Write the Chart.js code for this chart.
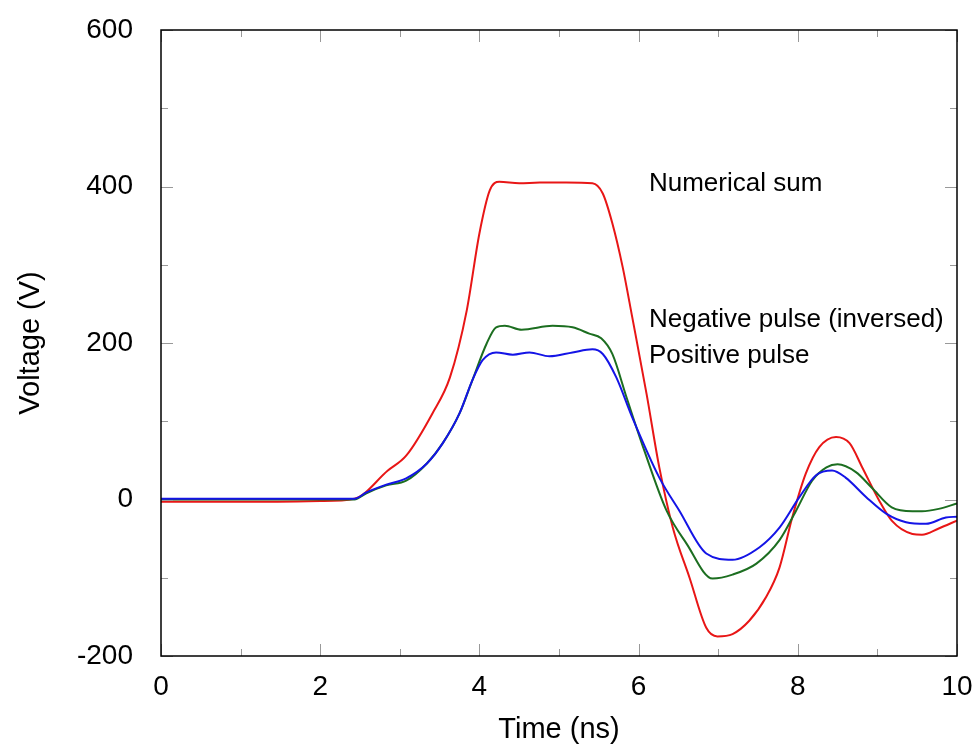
<!DOCTYPE html>
<html>
<head>
<meta charset="utf-8">
<script src="https://cdn.jsdelivr.net/npm/chart.js@4"></script>
<style>
  html, body { margin: 0; padding: 0; background: #fff; }
  #wrap { width: 976px; height: 747px; }
</style>
</head>
<body>
<div id="wrap"><canvas id="pulseChart" width="976" height="747"></canvas></div>
<script>
// Numerical sum (red)
const sumTime = [0, 1, 2, 2.43, 2.85, 3.08, 3.41, 3.63, 3.84, 4.0, 4.13, 4.25, 4.5, 4.76, 5.09, 5.42, 5.55, 5.67, 5.8, 5.92, 6.1, 6.26, 6.43, 6.64, 6.85, 6.99, 7.18, 7.39, 7.6, 7.77, 7.93, 8.1, 8.27, 8.48, 8.65, 8.81, 9.02, 9.18, 9.44, 9.56, 9.77, 10];
const sumVolts = [-3, -3, -2, 1, 37, 56, 110, 156, 241, 340, 395, 406, 404, 405, 405, 404, 391, 353, 297, 233, 135, 41, -36, -100, -164, -175, -172, -155, -125, -87, -23, 33, 67, 80, 72, 41, -1, -27, -44, -45, -37, -27];

// Negative pulse, inverted (green)
const negTime = [0, 1, 2, 2.43, 2.58, 2.83, 3.08, 3.34, 3.54, 3.75, 3.91, 4.09, 4.21, 4.32, 4.53, 4.92, 5.17, 5.38, 5.53, 5.67, 5.85, 6.07, 6.35, 6.6, 6.93, 7.18, 7.48, 7.77, 7.98, 8.18, 8.36, 8.5, 8.73, 8.93, 9.18, 9.44, 9.56, 9.77, 10];
const negVolts = [0, 0, 0, 0, 8, 18, 24, 46, 72, 110, 152, 199, 220, 222, 217, 222, 220, 212, 206, 186, 130, 63, -14, -56, -101, -96, -82, -52, -14, 24, 41, 45, 35, 15, -10, -15, -15, -12, -5];

// Positive pulse (blue)
const posTime = [0, 1, 2, 2.43, 2.58, 2.83, 3.08, 3.34, 3.54, 3.75, 3.91, 4.04, 4.21, 4.42, 4.63, 4.88, 5.17, 5.42, 5.55, 5.72, 5.92, 6.26, 6.51, 6.85, 7.18, 7.52, 7.77, 8.02, 8.23, 8.43, 8.6, 8.86, 9.11, 9.36, 9.61, 9.86, 10];
const posVolts = [1, 1, 1, 1, 9, 19, 27, 46, 72, 110, 152, 178, 188, 185, 188, 183, 188, 192, 186, 156, 105, 28, -14, -69, -77, -61, -36, 3, 31, 37, 28, 3, -18, -29, -31, -23, -22];

const seriesNames = ["Numerical sum", "Negative pulse (inversed)", "Positive pulse"];
// label anchor points (time, voltage)
const labelTime = [6.13, 6.13, 6.13];
const labelVolts = [404, 229, 184];

const xTicks = [0, 2, 4, 6, 8, 10];
const yTicks = [-200, 0, 200, 400, 600];

const FONT = "'Liberation Sans', Arial, Helvetica, sans-serif";

function pts(xs, ys) {
  return xs.map((x, i) => ({ x: x, y: ys[i] }));
}

// frame + inward ticks on all four sides, plus curve labels
const framePlugin = {
  id: "frame",
  afterDraw(chart) {
    const ctx = chart.ctx;
    const a = chart.chartArea;
    const xs = chart.scales.x;
    const ys = chart.scales.y;
    ctx.save();
    ctx.strokeStyle = "#999";
    ctx.lineWidth = 1;
    for (let t = 0; t <= 10; t += 1) {
      const px = Math.round(xs.getPixelForValue(t)) + 0.5;
      const len = t % 2 === 0 ? 12 : 7;
      ctx.beginPath();
      ctx.moveTo(px, a.bottom); ctx.lineTo(px, a.bottom - len);
      ctx.moveTo(px, a.top); ctx.lineTo(px, a.top + len);
      ctx.stroke();
    }
    for (let v = -200; v <= 600; v += 100) {
      const py = Math.round(ys.getPixelForValue(v)) + 0.5;
      const len = v % 200 === 0 ? 12 : 7;
      ctx.beginPath();
      ctx.moveTo(a.left, py); ctx.lineTo(a.left + len, py);
      ctx.moveTo(a.right, py); ctx.lineTo(a.right - len, py);
      ctx.stroke();
    }
    ctx.strokeStyle = "#000";
    ctx.lineWidth = 1.5;
    ctx.strokeRect(a.left, a.top, a.right - a.left, a.bottom - a.top);

    ctx.fillStyle = "#000";
    ctx.font = "26px " + FONT;
    ctx.textAlign = "left";
    ctx.textBaseline = "middle";
    seriesNames.forEach((name, i) => {
      ctx.fillText(name, xs.getPixelForValue(labelTime[i]), ys.getPixelForValue(labelVolts[i]));
    });
    ctx.restore();
  }
};

const ctx = document.getElementById("pulseChart").getContext("2d");
const chart = new Chart(ctx, {
  type: "line",
  data: {
    datasets: [
      {
        label: seriesNames[0],
        data: pts(sumTime, sumVolts),
        borderColor: "rgb(232, 22, 22)",
        borderWidth: 2,
        pointRadius: 0,
        cubicInterpolationMode: "monotone",
        order: 3,
      },
      {
        label: seriesNames[1],
        data: pts(negTime, negVolts),
        borderColor: "rgb(28, 110, 32)",
        borderWidth: 2,
        pointRadius: 0,
        cubicInterpolationMode: "monotone",
        order: 2,
      },
      {
        label: seriesNames[2],
        data: pts(posTime, posVolts),
        borderColor: "rgb(20, 20, 230)",
        borderWidth: 2,
        pointRadius: 0,
        cubicInterpolationMode: "monotone",
        order: 1,
      },
    ],
  },
  options: {
    responsive: false,
    animation: false,
    layout: { padding: { top: 30, right: 19, left: 0, bottom: 0 } },
    plugins: {
      legend: { display: false },
      tooltip: { enabled: false },
    },
    scales: {
      x: {
        type: "linear",
        min: 0,
        max: 10,
        grid: { display: false },
        border: { display: false },
        afterBuildTicks(scale) {
          scale.ticks = xTicks.map((v) => ({ value: v }));
        },
        afterFit(scale) {
          scale.height = 91;
          scale.paddingLeft = 0;
          scale.paddingRight = 0;
        },
        ticks: {
          color: "#000",
          font: { size: 28, family: FONT },
          padding: 6,
          maxRotation: 0,
        },
        title: {
          display: true,
          text: "Time (ns)",
          color: "#000",
          font: { size: 29, family: FONT },
          padding: { top: 0, bottom: 0 },
        },
      },
      y: {
        min: -200,
        max: 600,
        grid: { display: false },
        border: { display: false },
        afterBuildTicks(scale) {
          scale.ticks = yTicks.map((v) => ({ value: v }));
        },
        afterFit(scale) {
          scale.width = 161;
          scale.paddingTop = 0;
          scale.paddingBottom = 0;
        },
        ticks: {
          color: "#000",
          font: { size: 28, family: FONT },
          padding: 20,
        },
        title: {
          display: true,
          text: "Voltage (V)",
          color: "#000",
          font: { size: 29, family: FONT },
          padding: { top: 14, bottom: 0 },
        },
      },
    },
  },
  plugins: [framePlugin],
});
</script>
</body>
</html>
